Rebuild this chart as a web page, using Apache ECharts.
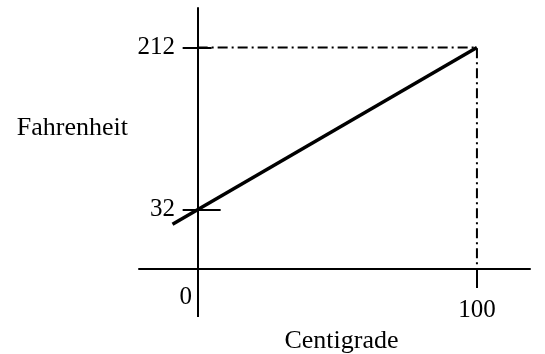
<!DOCTYPE html>
<html lang="en">
<head>
    <meta charset="UTF-8">
    <title>Centigrade / Fahrenheit</title>
    <script src="https://cdn.jsdelivr.net/npm/echarts@6/dist/echarts.min.js"></script>
    <style>
        html, body { margin: 0; padding: 0; background: #fff; }
    </style>
</head>
<body>
<div id="myChart" style="width: 545px;height: 354px"></div>
</body>
<script>
    // data
    var centigrade = [-9, 100];
    var fahrenheit = [15.8, 212];
    var xTicks = [0, 100];
    var yTicks = [32, 212];
    var xRange = [-21, 119];
    var yRange = [-34, 256];

    var font = 'Liberation Serif';
    var lineData = centigrade.map(function (c, i) { return [c, fahrenheit[i]]; });
    var endC = centigrade[centigrade.length - 1];
    var endF = fahrenheit[fahrenheit.length - 1];
    // dash-dot guide from the y axis to the end point and down to the x axis
    var guideData = [[0, endF], [endC, endF], [endC, yRange[0]]];

    var axisStyle = {color: '#000', width: 2};

    var myChart = echarts.init(document.getElementById('myChart'));
    myChart.setOption({
        animation: false,
        grid: {left: 139, right: 15, top: 8, bottom: 85, outerBoundsMode: 'none', containLabel: false},
        xAxis: [{
            type: 'value', min: xRange[0], max: xRange[1],
            position: 'bottom',
            axisLine: {onZero: false, lineStyle: axisStyle},
            axisTick: {customValues: [xTicks[1]], length: 19, lineStyle: axisStyle},
            axisLabel: {
                customValues: xTicks, margin: 16,
                formatter: function (v) { return v === 0 ? '{z|0}' : '{h|' + v + '}'; },
                rich: {
                    z: {fontFamily: font, fontSize: 25, color: '#000', padding: [0, 24, 0, 0]},
                    h: {fontFamily: font, fontSize: 25, color: '#000', padding: [13, 0, 0, 0]}
                }
            },
            splitLine: {show: false},
            name: 'Centigrade', nameLocation: 'middle', nameGap: 53,
            nameTextStyle: {fontFamily: font, fontSize: 26, color: '#000', padding: [0, 0, 0, 14]}
        }, {
            // carries the stretch of the vertical axis below the x axis
            type: 'value', min: xRange[0], max: xRange[1],
            position: 'bottom',
            axisLine: {show: false, onZero: false},
            axisTick: {customValues: [xTicks[0]], length: 48, lineStyle: axisStyle},
            axisLabel: {show: false},
            splitLine: {show: false}
        }],
        yAxis: [{
            type: 'value', min: yRange[0], max: yRange[1],
            position: 'left',
            axisLine: {onZero: true, onZeroAxisIndex: 0, lineStyle: axisStyle},
            axisTick: {customValues: yTicks, length: 15, lineStyle: axisStyle},
            axisLabel: {
                customValues: yTicks, margin: -36, fontFamily: font, fontSize: 25, color: '#000',
                padding: [4, 0, 0, 0]
            },
            splitLine: {show: false},
            name: 'Fahrenheit', nameLocation: 'middle', nameRotate: 0, nameGap: 11,
            nameTextStyle: {
                fontFamily: font, fontSize: 26, color: '#000',
                verticalAlign: 'bottom', lineHeight: 21
            }
        }, {
            type: 'value', min: yRange[0], max: yRange[1],
            position: 'right',
            axisLine: {show: false, onZero: true, onZeroAxisIndex: 0},
            axisTick: {customValues: [yTicks[0]], length: 23, lineStyle: axisStyle},
            axisLabel: {show: false},
            splitLine: {show: false}
        }, {
            type: 'value', min: yRange[0], max: yRange[1],
            position: 'right',
            axisLine: {show: false, onZero: true, onZeroAxisIndex: 0},
            axisTick: {customValues: [yTicks[1]], length: 14, lineStyle: axisStyle},
            axisLabel: {show: false},
            splitLine: {show: false}
        }],
        series: [{
            name: 'guide',
            type: 'line',
            data: guideData,
            symbol: 'none',
            silent: true,
            lineStyle: {color: '#000', width: 2, type: [10, 4, 2, 4]},
            z: 1
        }, {
            name: 'Fahrenheit',
            type: 'line',
            data: lineData,
            symbol: 'none',
            lineStyle: {color: '#000', width: 3.5},
            z: 2
        }]
    });
</script>
</html>
